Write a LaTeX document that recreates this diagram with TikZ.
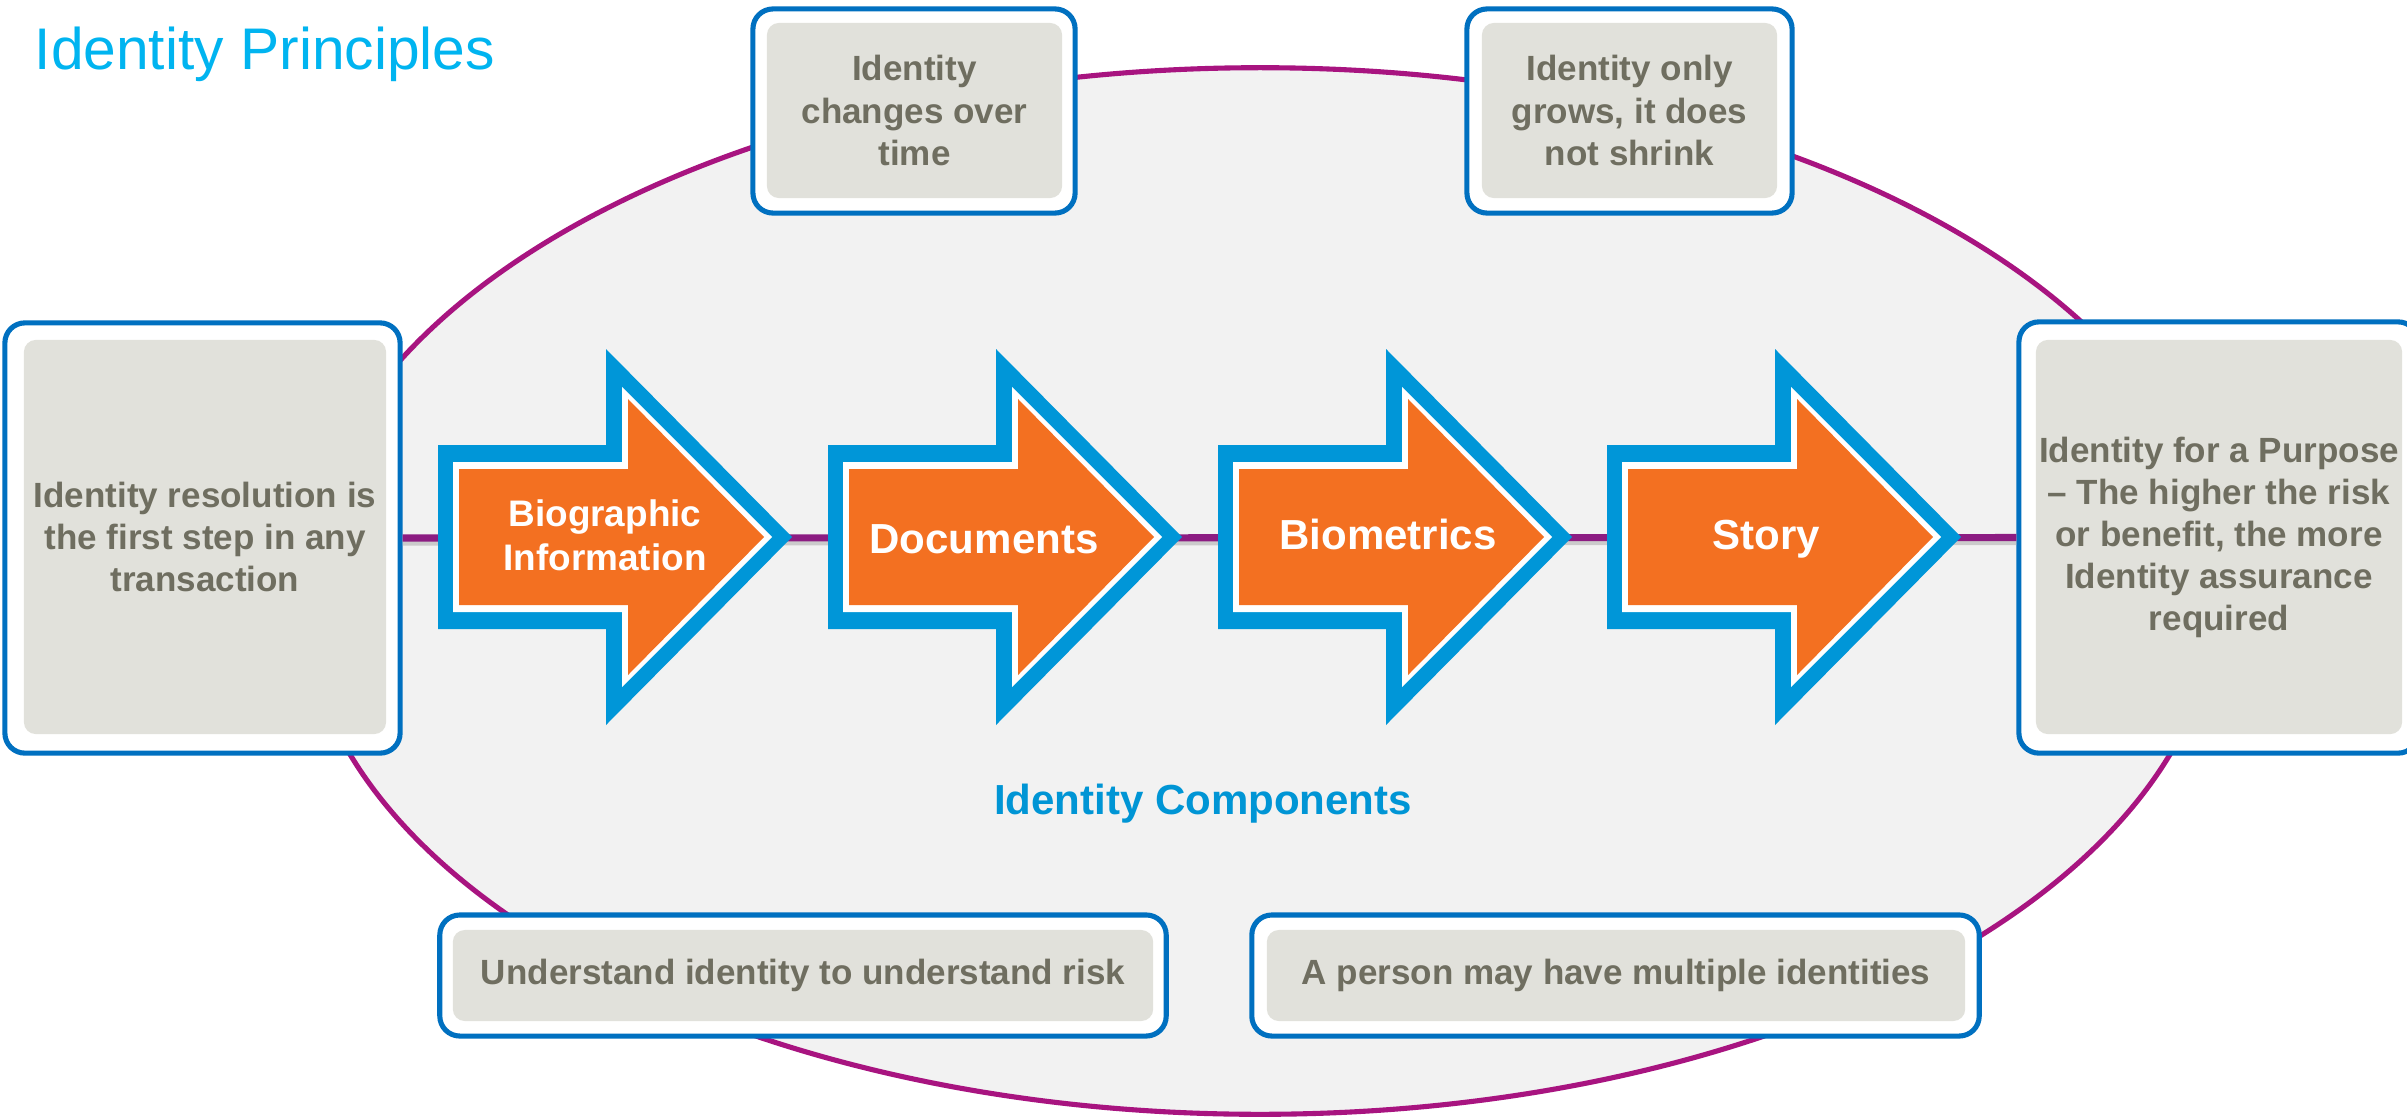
\documentclass[tikz,border=0pt]{standalone}
\usepackage{fontspec}
\setmainfont{Liberation Sans}
\definecolor{ellfill}{HTML}{F2F2F2}
\definecolor{ellline}{HTML}{A81480}
\definecolor{hline}{HTML}{8C1C82}
\definecolor{boxblue}{HTML}{0070C0}
\definecolor{arrblue}{HTML}{0096D8}
\definecolor{arrorange}{HTML}{F37021}
\definecolor{innergray}{HTML}{E1E1DB}
\definecolor{textgray}{HTML}{6F6E60}
\definecolor{compblue}{HTML}{0095D5}
\definecolor{titlecyan}{HTML}{00B4F0}
\newcommand{\boxfont}{\fontsize{9.96pt}{11.95pt}\selectfont\bfseries}
\newcommand{\arrfont}{\fontsize{11.95pt}{12.5pt}\selectfont\bfseries}
\newcommand{\biofont}{\fontsize{10.5pt}{12.5pt}\selectfont\bfseries}
\begin{document}
\begin{tikzpicture}[x=0.01cm,y=-0.01cm,
  outerbox/.style={draw=boxblue, line width=1.45pt, fill=white, rounded corners=0.2cm, inner sep=0pt},
  innerbox/.style={fill=innergray, rounded corners=0.12cm, inner sep=0pt, align=center, text=textgray, font=\boxfont},
  arrtext/.style={text=white, align=center, font=\arrfont, inner sep=0pt},
  ellstyle/.style={fill=ellfill, draw=ellline, line width=1.45pt},
  linkline/.style={draw=hline, line width=2pt}
]
\useasboundingbox (0,0) rectangle (2407,1118);
\clip (0,0) rectangle (2407,1118);
\fill[white] (0,0) rectangle (2407,1118);

% ellipse
\draw[ellstyle] (1260,591) ellipse [x radius=9.57cm, y radius=5.23cm];

% title
\node[anchor=west, text=titlecyan, font=\fontsize{16.7pt}{20pt}\selectfont, inner sep=0pt] (title) at (34,54) {Identity Principles};

% outer boxes
\node[outerbox, minimum width=3.95cm, minimum height=4.30cm] (lbo) at (202.5,538) {};
\node[outerbox, minimum width=3.99cm, minimum height=4.31cm] (rbo) at (2218.5,537.5) {};
\node[outerbox, minimum width=3.22cm, minimum height=2.04cm] (tlo) at (914,111) {};
\node[outerbox, minimum width=3.25cm, minimum height=2.04cm] (tro) at (1629.5,111) {};
\node[outerbox, minimum width=7.26cm, minimum height=1.21cm] (blo) at (803,975.5) {};
\node[outerbox, minimum width=7.27cm, minimum height=1.21cm] (bro) at (1615.5,975.5) {};

% inner boxes with text
\node[innerbox, minimum width=3.62cm, minimum height=3.94cm] (lbi) at (205,537) {Identity resolution is\\the first step in any\\transaction};
\node[innerbox, minimum width=3.66cm, minimum height=3.94cm] (rbi) at (2219,537) {Identity for a Purpose\\\textendash{} The higher the risk\\or benefit, the more\\Identity assurance\\required};
\node[innerbox, minimum width=2.95cm, minimum height=1.75cm] (tli) at (914.5,110.5) {Identity\\changes over\\time};
\node[innerbox, minimum width=2.95cm, minimum height=1.75cm] (tri) at (1629.5,110.5) {Identity only\\grows, it does\\not shrink};
\node[innerbox, minimum width=7.00cm, minimum height=0.91cm] (bli) at (803,975.5) {Understand identity to understand risk};
\node[innerbox, minimum width=6.98cm, minimum height=0.91cm] (bri) at (1616,975.5) {A person may have multiple identities};

% connecting line with shadow
\draw[line width=2pt, black!30, opacity=0.6] ([yshift=-0.04cm]lbo.east) -- ([yshift=-0.04cm]rbo.west);
\draw[linkline] (lbo.east) -- (rbo.west);

% arrows
\foreach \ax in {438,828,1218,1607}{
  \begin{scope}[shift={(\ax,537)}]
    \fill[arrblue] (0,-92) -- (168,-92) -- (168,-188) -- (354,0) -- (168,188) -- (168,92) -- (0,92) -- cycle;
    \fill[white] (15,-75) -- (184,-75) -- (184,-150) -- (334,0) -- (184,150) -- (184,75) -- (15,75) -- cycle;
    \fill[arrorange] (21,-68) -- (190,-68) -- (190,-138) -- (326,0) -- (190,138) -- (190,68) -- (21,68) -- cycle;
  \end{scope}
}
\node[arrtext, font=\biofont] (a1) at (605,535) {Biographic\\Information};
\node[arrtext] (a2) at (984,539) {Documents};
\node[arrtext] (a3) at (1388,534) {Biometrics};
\node[arrtext] (a4) at (1766,539) {Story};

% components label
\node[text=compblue, font=\arrfont, inner sep=0pt] (comp) at (1203,804) {Identity Components};
\end{tikzpicture}
\end{document}
